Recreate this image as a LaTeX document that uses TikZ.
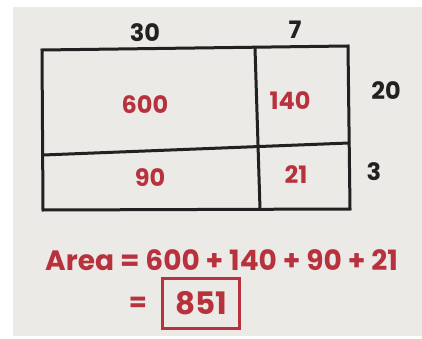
\documentclass[tikz,border=0pt]{standalone}
\usepackage{fontspec}
\setmainfont{Poppins}
\definecolor{paper}{RGB}{236,234,231}
\definecolor{pen}{RGB}{34,32,32}
\definecolor{ink}{RGB}{184,50,62}
\begin{document}
\begin{tikzpicture}[x=1pt,y=-1pt,
    every node/.style={font=\fontsize{24}{28}\selectfont\bfseries, inner sep=0pt},
    grid/.style={pen, line width=3pt, line cap=round},
    cell/.style={ink},
    side/.style={pen}]
    \useasboundingbox (0,0) rectangle (422,339);
    \fill[white] (0,0) rectangle (422,339);
    \fill[paper] (13,7) rectangle (422,336);

    % frame of the area model
    \coordinate (tl) at (42,50);
    \coordinate (tr) at (348,46);
    \coordinate (br) at (350,209);
    \coordinate (bl) at (43,210);
    \coordinate (tm) at (255,48);
    \coordinate (bm) at (260,209);
    \coordinate (ml) at (43,155);
    \coordinate (mr) at (349,143);
    \draw[grid] (tl) -- (tr) -- (br) -- (bl) -- cycle;
    \draw[grid] (tm) -- (bm);
    \draw[grid] (ml) -- (mr);

    % side lengths
    \node[side] (w1) at (145,33) {30};
    \node[side] (w2) at (295,30) {7};
    \node[side] (h1) at (386,91) {20};
    \node[side] (h2) at (374,172) {3};

    % partial products
    \node[cell] (p1) at (145,105) {600};
    \node[cell] (p2) at (290,101) {140};
    \node[cell] (p3) at (150,178) {90};
    \node[cell] (p4) at (296,175) {21};

    % sum
    \node[ink, anchor=west, font=\fontsize{28}{32}\selectfont\bfseries]
      (sum) at (45,260) {Area = 600 + 140 + 90 + 21};
    \node[ink, font=\fontsize{26}{30}\selectfont\bfseries] (eq) at (138,304) {=};
    \node[ink, draw, line width=3pt, minimum width=77pt, minimum height=50pt,
      font=\fontsize{31}{35}\selectfont\bfseries]
      (total) at (201,303) {851};
\end{tikzpicture}
\end{document}
